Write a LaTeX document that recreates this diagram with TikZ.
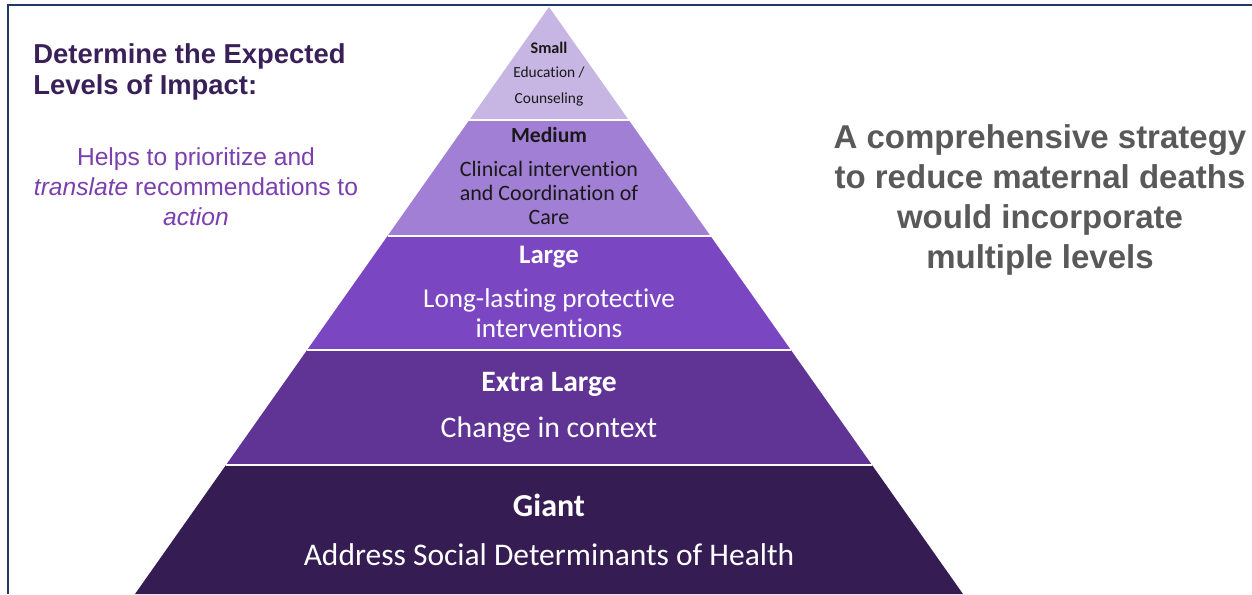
\documentclass[tikz,border=0pt]{standalone}
\usepackage{fontspec}
\setmainfont{Liberation Sans}
\newfontfamily\calibri[Ligatures=NoCommon]{Carlito}
\usetikzlibrary{calc}

\definecolor{framec}{HTML}{203864}
\definecolor{smallc}{HTML}{C7B5E3}
\definecolor{mediumc}{HTML}{A17FD4}
\definecolor{largec}{HTML}{7B46C2}
\definecolor{xlargec}{HTML}{5F3494}
\definecolor{giantc}{HTML}{351D54}
\definecolor{titlec}{HTML}{3A2058}
\definecolor{helpsc}{HTML}{7B3FAE}
\definecolor{notec}{HTML}{595959}

\tikzset{
  sep/.style={draw=white, line width=1pt},
  level/.style={font=\calibri, align=center, inner sep=0},
  darktext/.style={level, text=black!90},
  lighttext/.style={level, text=white},
}

\begin{document}
\begin{tikzpicture}[x=0.5pt, y=-0.5pt]
    \useasboundingbox (0,0) rectangle (1252,594);

    % coordinates to be reused
    \coordinate (apex) at (549,7);
    \coordinate (BL) at (135,594);
    \coordinate (BR) at (963,594);
    \foreach \n/\t in {1/0.1925, 2/0.3901, 3/0.5843, 4/0.7802} {
      \coordinate (L\n) at ($(apex)!\t!(BL)$);
      \coordinate (R\n) at ($(apex)!\t!(BR)$);
    }

    % frame
    \draw [framec, line width=1pt] (1252,5) -- (8,5) -- (8,594);

    % draw pyramid
    \fill [smallc] (apex) -- (R1) -- (L1) -- cycle;
    \fill [mediumc] (L1) -- (R1) -- (R2) -- (L2) -- cycle;
    \fill [largec] (L2) -- (R2) -- (R3) -- (L3) -- cycle;
    \fill [xlargec] (L3) -- (R3) -- (R4) -- (L4) -- cycle;
    \fill [giantc] (L4) -- (R4) -- (BR) -- (BL) -- cycle;
    \foreach \n in {1,2,3,4}
      \draw [sep] (L\n) -- (R\n);

    % add labels
    \node [darktext, font=\calibri\bfseries\fontsize{8.1}{10}\selectfont] (smallhead) at (549,48) {Small};
    \node [darktext, font=\calibri\fontsize{7.7}{13}\selectfont] (smalltext) at (549,86) {Education /\\Counseling};
    \node [darktext, font=\calibri\bfseries\fontsize{10.8}{12}\selectfont] (mediumhead) at (549,135) {Medium};
    \node [darktext, font=\calibri\fontsize{11}{12}\selectfont] (mediumtext) at (549,193) {Clinical intervention\\and Coordination of\\Care};
    \node [lighttext, font=\calibri\bfseries\fontsize{13.4}{15}\selectfont] (largehead) at (549,257) {Large};
    \node [lighttext, font=\calibri\fontsize{13.6}{15}\selectfont] (largetext) at (549,313) {Long-lasting protective\\interventions};
    \node [lighttext, font=\calibri\bfseries\fontsize{14.8}{17}\selectfont] (xlargehead) at (549,384) {Extra Large};
    \node [lighttext, font=\calibri\fontsize{14.9}{17}\selectfont] (xlargetext) at (549,430) {Change in context};
    \node [lighttext, font=\calibri\bfseries\fontsize{16}{19}\selectfont] (gianthead) at (549,505) {Giant};
    \node [lighttext, font=\calibri\fontsize{15.75}{19}\selectfont] (gianttext) at (549,555) {Address Social Determinants of Health};

    \node [anchor=north west, inner sep=0, align=left, text=titlec,
           font=\bfseries\fontsize{13.7}{15.5}\selectfont] (title) at (33,43)
          {Determine the Expected\\Levels of Impact:};
    \node [anchor=north, inner sep=0, align=center, text=helpsc,
           font=\fontsize{12.3}{15}\selectfont] (helps) at (196,147)
          {Helps to prioritize and\\\textit{translate} recommendations to\\\textit{action}};
    \node [anchor=north, inner sep=0, align=center, text=notec,
           font=\bfseries\fontsize{16.5}{20}\selectfont] (note) at (1040,124)
          {A comprehensive strategy\\to reduce maternal deaths\\would incorporate\\multiple levels};
\end{tikzpicture}
\end{document}
